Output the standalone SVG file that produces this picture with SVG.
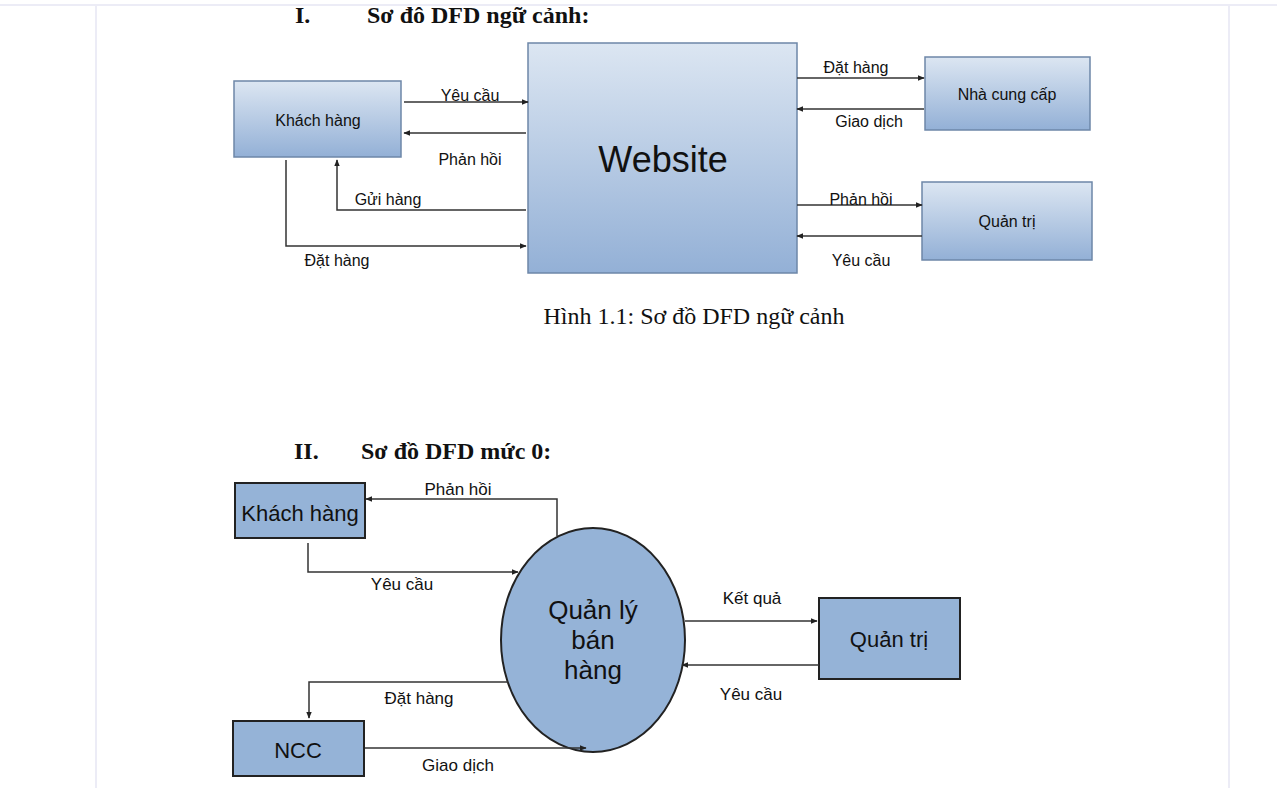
<svg xmlns="http://www.w3.org/2000/svg" width="1277" height="788" viewBox="0 0 1277 788">
<defs>
<linearGradient id="g1" x1="0" y1="0" x2="0" y2="1">
<stop offset="0" stop-color="#dce6f2"/>
<stop offset="1" stop-color="#93b0d6"/>
</linearGradient>
<marker id="ah" viewBox="0 0 10 10" refX="9" refY="5" markerWidth="7" markerHeight="7" orient="auto" markerUnits="userSpaceOnUse">
<path d="M0,1 L10,5 L0,9 z" fill="#222"/>
</marker>
<style>
.sans{font-family:"Liberation Sans",Arial,sans-serif;fill:#111}
.lbl{font-size:16px}
.head{font-family:"Liberation Serif","Times New Roman",serif;font-weight:bold;font-size:24px;fill:#111}
.cap{font-family:"Liberation Serif","Times New Roman",serif;font-size:24px;fill:#111}
.gbox{fill:url(#g1);stroke:#6d87a8;stroke-width:1.5}
.box{fill:#95b3d7;stroke:#222;stroke-width:2}
.arr{fill:none;stroke:#333;stroke-width:1.5;marker-end:url(#ah)}
.page{stroke:#ececf6;stroke-width:2}
</style>
</defs>
<rect width="1277" height="788" fill="#fff"/>
<g id="page">
<line class="page" x1="0" y1="5" x2="1277" y2="5"/>
<line class="page" x1="96" y1="5" x2="96" y2="788"/>
<line class="page" x1="1229" y1="5" x2="1229" y2="788"/>
</g>
<g id="headings">
<text class="head" x="295" y="23">I.</text>
<text class="head" x="367" y="23">Sơ đô DFD ngữ cảnh:</text>
<text class="cap" x="694" y="324" text-anchor="middle">Hình 1.1: Sơ đồ DFD ngữ cảnh</text>
<text class="head" x="294" y="459">II.</text>
<text class="head" x="361" y="459">Sơ đồ DFD mức 0:</text>
</g>
<g id="n-khachhang1">
<rect class="gbox" x="234" y="81" width="167" height="76"/>
<text class="sans lbl" x="318" y="126" text-anchor="middle">Khách hàng</text>
</g>
<g id="n-website">
<rect class="gbox" x="528" y="43" width="269" height="230"/>
<text class="sans" x="663" y="172" text-anchor="middle" font-size="36">Website</text>
</g>
<g id="n-nhacungcap">
<rect class="gbox" x="925" y="57" width="165" height="73"/>
<text class="sans lbl" x="1007" y="100" text-anchor="middle">Nhà cung cấp</text>
</g>
<g id="n-quantri1">
<rect class="gbox" x="922" y="182" width="170" height="78"/>
<text class="sans lbl" x="1007" y="227" text-anchor="middle">Quản trị</text>
</g>
<g id="n-khachhang2">
<rect class="box" x="235" y="483" width="130" height="55"/>
<text class="sans" x="300" y="521" text-anchor="middle" font-size="22">Khách hàng</text>
</g>
<g id="n-quanlybanhang">
<ellipse cx="593" cy="640" rx="92" ry="112" fill="#95b3d7" stroke="#222" stroke-width="2"/>
<text class="sans" x="593" y="619" text-anchor="middle" font-size="26">Quản lý</text>
<text class="sans" x="593" y="649" text-anchor="middle" font-size="26">bán</text>
<text class="sans" x="593" y="679" text-anchor="middle" font-size="26">hàng</text>
</g>
<g id="n-quantri2">
<rect class="box" x="819" y="598" width="141" height="81"/>
<text class="sans" x="889" y="647" text-anchor="middle" font-size="22">Quản trị</text>
</g>
<g id="n-ncc">
<rect class="box" x="233" y="721" width="131" height="55"/>
<text class="sans" x="298" y="758" text-anchor="middle" font-size="22">NCC</text>
</g>
<g id="connectors">
<line class="arr" x1="404" y1="102" x2="528" y2="102"/>
<line class="arr" x1="526" y1="133" x2="404" y2="133"/>
<polyline class="arr" points="526,210 337,210 337,160"/>
<polyline class="arr" points="286,160 286,246 526,246"/>
<line class="arr" x1="797" y1="78" x2="924" y2="78"/>
<line class="arr" x1="924" y1="109" x2="797" y2="109"/>
<line class="arr" x1="797" y1="205" x2="922" y2="205"/>
<line class="arr" x1="922" y1="236" x2="797" y2="236"/>
<polyline class="arr" points="557,536 557,499 366,499"/>
<polyline class="arr" points="308,543 308,572 518,572"/>
<line class="arr" x1="685" y1="621" x2="817" y2="621"/>
<line class="arr" x1="819" y1="665" x2="682" y2="665"/>
<polyline class="arr" points="508,682 309,682 309,718"/>
<line class="arr" x1="365" y1="748" x2="586" y2="748"/>
</g>
<g id="labels" class="sans lbl">
<text x="470" y="101" text-anchor="middle">Yêu cầu</text>
<text x="470" y="165" text-anchor="middle">Phản hồi</text>
<text x="388" y="205" text-anchor="middle">Gửi hàng</text>
<text x="337" y="266" text-anchor="middle">Đặt hàng</text>
<text x="856" y="73" text-anchor="middle">Đặt hàng</text>
<text x="869" y="127" text-anchor="middle">Giao dịch</text>
<text x="861" y="205" text-anchor="middle">Phản hồi</text>
<text x="861" y="266" text-anchor="middle">Yêu cầu</text>
<text x="458" y="495" text-anchor="middle" font-size="17">Phản hồi</text>
<text x="402" y="590" text-anchor="middle" font-size="17">Yêu cầu</text>
<text x="752" y="604" text-anchor="middle" font-size="17">Kết quả</text>
<text x="751" y="700" text-anchor="middle" font-size="17">Yêu cầu</text>
<text x="419" y="704" text-anchor="middle" font-size="17">Đặt hàng</text>
<text x="458" y="771" text-anchor="middle" font-size="17">Giao dịch</text>
</g>
</svg>
